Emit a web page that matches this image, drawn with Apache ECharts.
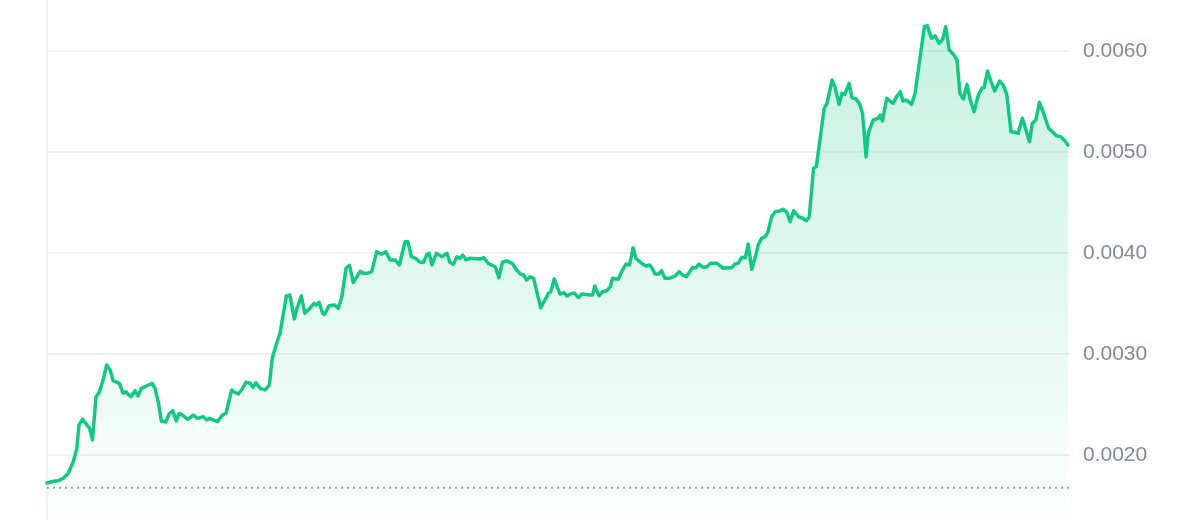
<!DOCTYPE html>
<html>
<head>
<meta charset="utf-8">
<script src="https://cdn.jsdelivr.net/npm/echarts@6/dist/echarts.min.js"></script>
<style>
html,body{margin:0;padding:0;background:#fff;}
#chart{width:1200px;height:520px;}
</style>
</head>
<body>
<div id="chart"></div>
<script>
// minutes since start of the 24h window
const times = [0,9,16,23,30,37,42,45,50,60,64,69,74,79,84,89,93,102,107,111,114,118,124,128,133,140,148,152,157,161,167,172,177,182,186,192,198,206,212,220,225,229,240,247,252,260,263,269,274,280,286,290,294,300,307,313,317,324,328,337,342,348,352,358,363,370,376,379,383,388,391,397,405,410,415,421,426,431,441,445,451,457,464,471,477,483,490,496,504,508,513,519,525,530,535,538,542,548,556,563,567,572,577,581,585,590,595,610,615,621,631,636,641,647,655,661,667,671,675,680,685,695,701,706,709,714,722,728,732,739,743,748,753,764,768,771,777,782,788,793,796,804,809,815,820,825,829,837,843,848,851,856,861,865,870,876,884,890,895,900,909,913,918,923,929,934,943,952,957,964,968,973,978,983,987,992,997,1001,1006,1011,1015,1020,1025,1032,1036,1041,1046,1051,1058,1064,1069,1073,1079,1083,1094,1098,1105,1109,1115,1119,1123,1129,1133,1139,1144,1148,1153,1156,1163,1170,1173,1176,1182,1191,1196,1201,1205,1210,1217,1222,1235,1239,1245,1250,1256,1261,1265,1270,1276,1281,1285,1290,1295,1299,1305,1311,1316,1319,1324,1328,1334,1341,1346,1351,1357,1363,1367,1373,1378,1383,1387,1392,1397,1402,1410,1416,1421,1427,1433,1437];

const prices = [
0.001723,0.001740,0.001746,0.001769,0.001819,0.001934,0.002066,0.002297,0.002353,0.002264,
0.002149,0.002577,0.002627,0.002743,0.002891,0.002842,0.002736,0.002710,0.002611,0.002627,
0.002604,0.002577,0.002637,0.002584,0.002660,0.002683,0.002710,0.002660,0.002512,0.002337,
0.002327,0.002406,0.002439,0.002337,0.002413,0.002389,0.002353,0.002396,0.002363,0.002379,
0.002347,0.002363,0.002330,0.002396,0.002413,0.002644,0.002627,0.002604,0.002644,0.002720,
0.002710,0.002670,0.002716,0.002660,0.002644,0.002693,0.002957,0.003122,0.003205,0.003574,
0.003584,0.003347,0.003452,0.003577,0.003403,0.003452,0.003502,0.003485,0.003512,0.003403,
0.003393,0.003478,0.003485,0.003452,0.003564,0.003851,0.003878,0.003708,0.003819,0.003799,
0.003799,0.003815,0.004013,0.003987,0.004013,0.003931,0.003931,0.003881,0.004112,0.004112,
0.003963,0.003947,0.003908,0.003908,0.003987,0.003997,0.003881,0.003997,0.003963,0.003997,
0.003908,0.003888,0.003963,0.003947,0.003980,0.003931,0.003947,0.003941,0.003953,0.003898,
0.003864,0.003755,0.003908,0.003921,0.003898,0.003832,0.003789,0.003782,0.003733,0.003765,
0.003749,0.003458,0.003535,0.003601,0.003614,0.003743,0.003594,0.003607,0.003574,0.003601,
0.003601,0.003557,0.003594,0.003584,0.003584,0.003673,0.003577,0.003617,0.003627,0.003666,
0.003749,0.003740,0.003815,0.003891,0.003881,0.004052,0.003947,0.003898,0.003871,0.003881,
0.003858,0.003792,0.003792,0.003825,0.003749,0.003749,0.003772,0.003815,0.003779,0.003765,
0.003858,0.003851,0.003891,0.003858,0.003864,0.003898,0.003898,0.003849,0.003854,0.003854,
0.003891,0.003898,0.003957,0.003953,0.004089,0.003839,0.003957,0.004079,0.004146,0.004161,
0.004211,0.004359,0.004409,0.004419,0.004433,0.004409,0.004310,0.004419,0.004359,0.004344,
0.004320,0.004359,0.004839,0.004856,0.005433,0.005482,0.005713,0.005647,0.005472,0.005581,
0.005571,0.005680,0.005538,0.005525,0.005472,0.005383,0.004953,0.005185,0.005317,0.005334,
0.005366,0.005307,0.005532,0.005482,0.005548,0.005597,0.005505,0.005515,0.005472,0.005581,
0.006241,0.006251,0.006126,0.006151,0.006076,0.006119,0.006241,0.006010,0.005967,0.005911,
0.005581,0.005525,0.005670,0.005532,0.005399,0.005564,0.005631,0.005637,0.005802,0.005713,
0.005604,0.005703,0.005663,0.005571,0.005201,0.005195,0.005185,0.005334,0.005218,0.005102,
0.005284,0.005317,0.005492,0.005399,0.005235,0.005195,0.005161,0.005152,0.005109,0.005069
];

const openPrice = 0.001676;
const windowMinutes = 1440;
const yTicks = { min: 0.001, max: 0.007, interval: 0.001 };

const data = times.map((t, i) => [t, prices[i]]);
const openLine = [[0, openPrice], [windowMinutes, openPrice]];

const chart = echarts.init(document.getElementById('chart'), null, { renderer: 'canvas' });
const borderLine = { show: true, lineStyle: { color: '#eff2f5', width: 2 } };

chart.setOption({
  animation: false,
  grid: { left: 47, right: 130, top: -50, bottom: -36, containLabel: false, outerBoundsMode: 'none' },
  xAxis: { type: 'value', min: 0, max: windowMinutes, show: false },
  yAxis: [
    {
      type: 'value', position: 'right',
      min: yTicks.min, max: yTicks.max, interval: yTicks.interval,
      axisLine: borderLine,
      axisTick: { show: false },
      splitLine: { show: true, lineStyle: { color: '#eff2f5', width: 2 } },
      axisLabel: {
        color: '#808a9d', fontSize: 21, fontFamily: '"Liberation Sans", Arial, sans-serif',
        margin: 13, formatter: v => v.toFixed(4)
      }
    },
    {
      type: 'value', position: 'left',
      min: yTicks.min, max: yTicks.max, interval: yTicks.interval,
      axisLine: borderLine,
      axisTick: { show: false },
      splitLine: { show: false },
      axisLabel: { show: false }
    }
  ],
  series: [
    {
      type: 'line',
      yAxisIndex: 0,
      data: openLine,
      symbol: 'none',
      silent: true,
      z: 1,
      lineStyle: { color: '#9aa1ad', type: [2, 4], width: 2 }
    },
    {
      type: 'line',
      yAxisIndex: 0,
      data: data,
      symbol: 'none',
      z: 2,
      lineStyle: { color: '#16c784', width: 3.5, join: 'round', cap: 'round' },
      areaStyle: {
        origin: 'start',
        color: new echarts.graphic.LinearGradient(0, 0, 0, 1, [
          { offset: 0, color: 'rgba(22,199,132,0.34)' },
          { offset: 1, color: 'rgba(22,199,132,0)' }
        ])
      }
    }
  ]
});
</script>
</body>
</html>
